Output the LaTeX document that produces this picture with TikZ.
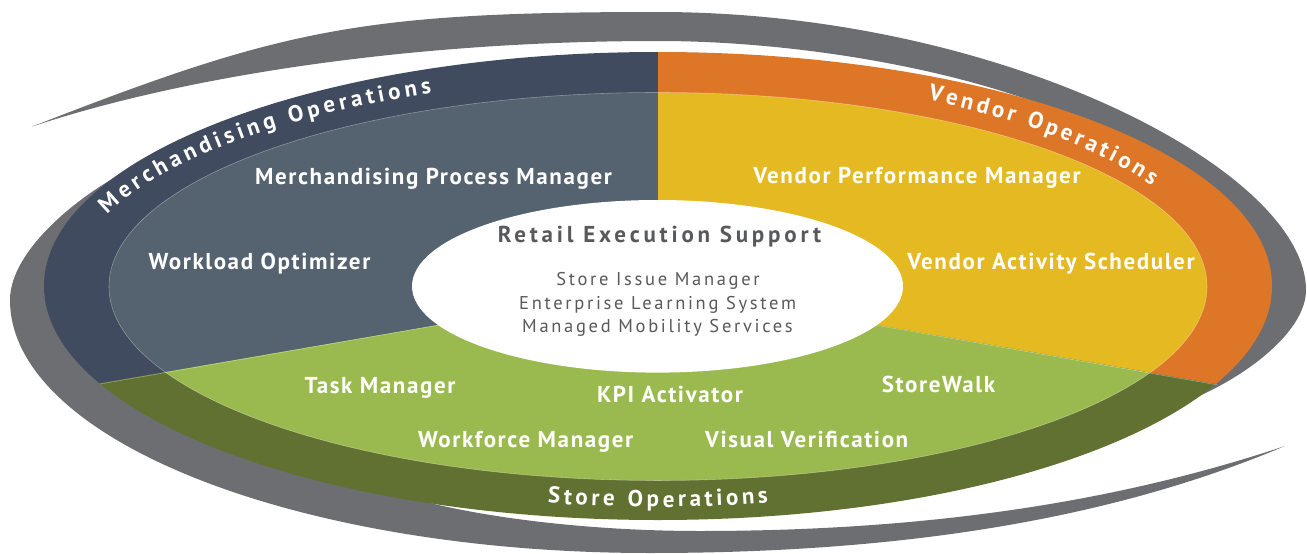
\documentclass[tikz,border=0pt]{standalone}
\usepackage{fontspec}
\setmainfont{PT Sans}
\usetikzlibrary{decorations.text}
\definecolor{swoosh}{HTML}{6D6E72}
\definecolor{navyout}{HTML}{414B5F}
\definecolor{slatein}{HTML}{55626F}
\definecolor{orangeout}{HTML}{DD7727}
\definecolor{yellowin}{HTML}{E4B922}
\definecolor{greenout}{HTML}{617132}
\definecolor{greenin}{HTML}{9ABA4F}
\definecolor{centertext}{HTML}{58595B}
\newcommand\curvefont{\bfseries\fontsize{23}{26}\selectfont}
\tikzset{
  lbl/.style={text=white, font=\bfseries\fontsize{23}{27}\selectfont\addfontfeature{LetterSpace=7}, anchor=base, inner sep=0pt},
  ctitle/.style={text=centertext, font=\bfseries\fontsize{23}{27}\selectfont\addfontfeature{LetterSpace=16.5}, anchor=base, inner sep=0pt},
  citem/.style={text=centertext, font=\fontsize{18.5}{22}\selectfont\addfontfeature{LetterSpace=14.5}, anchor=base, inner sep=0pt},
  seam/.style={white, opacity=0.35, line width=0.6pt},
  curved/.style={decorate, decoration={text along path, text align={fit to path}, text color=white, text={#1}}}
}
\begin{document}
\begin{tikzpicture}[x=1pt,y=-1pt]
\useasboundingbox (0,0) rectangle (1307,554);
% ---- gray swoosh: upper crescent
\fill[swoosh]
  (31.7,126.7) .. controls (281.7,29.2) and (358,12) .. (658,12)
  .. controls (1000,12) and (1306,170) .. (1306,290)
  .. controls (1306,330) and (1250,375) .. (1190,400)
  -- (1150,380) -- (1150,300) -- (1060,112)
  .. controls (960,70) and (800,41) .. (658,41)
  .. controls (408,41) and (181.7,76.7) .. (31.7,126.7) -- cycle;
% ---- gray swoosh: lower crescent
\fill[swoosh]
  (125,172) .. controls (80,195) and (10,250) .. (10,300)
  .. controls (10,440) and (297,553) .. (650,553)
  .. controls (900,553) and (1110,520) .. (1285,446)
  .. controls (1135,496) and (950,531) .. (700,531)
  .. controls (600,531) and (500,520) .. (430,503)
  -- (300,450) -- (150,330) -- (130,250) -- cycle;
% ---- Merchandising sector
\begin{scope}
  \clip (658,287) -- (658,-20) -- (-20,-20) -- (-20,404) -- cycle;
  \fill[navyout] (658,286) ellipse [x radius=614pt, y radius=234pt];
  \fill[slatein] (658,286.5) ellipse [x radius=549pt, y radius=194pt];
\end{scope}
% ---- Vendor sector
\begin{scope}
  \clip (658,287) -- (658,-20) -- (1330,-20) -- (1330,404) -- cycle;
  \fill[orangeout] (658,286) ellipse [x radius=614pt, y radius=234pt];
  \fill[yellowin] (658,286.5) ellipse [x radius=549pt, y radius=194pt];
\end{scope}
% ---- Store sector
\begin{scope}
  \clip (658,287) -- (-20,404) -- (-20,600) -- (1330,600) -- (1330,404) -- cycle;
  \fill[greenout] (658,286) ellipse [x radius=614pt, y radius=234pt];
  \fill[greenin] (658,286.5) ellipse [x radius=549pt, y radius=194pt];
\end{scope}
% seams
\draw[seam] (658,286.5) ellipse [x radius=549pt, y radius=194pt];
\draw[seam] (658,287) -- (100,384);
\draw[seam] (658,287) -- (1218,385);
% ---- centre
\fill[white] (657.5,286.3) ellipse [x radius=245.5pt, y radius=86.3pt];
\node[ctitle] (res) at (659.5,242.7) {Retail Execution Support};
\node[citem] (sim) at (658,285.7) {Store Issue Manager};
\node[citem] (els) at (657.7,309) {Enterprise Learning System};
\node[citem] (mms) at (657.5,332.7) {Managed Mobility Services};
% ---- labels
\node[lbl] (mpm) at (433.5,184) {Merchandising Process Manager};
\node[lbl] (wo) at (259.5,269) {Workload Optimizer};
\node[lbl] (vpm) at (917,183) {Vendor Performance Manager};
\node[lbl] (vas) at (1051,269) {Vendor Activity Scheduler};
\node[lbl] (tm) at (380,393) {Task Manager};
\node[lbl] (kpi) at (670,402.7) {KPI Activator};
\node[lbl] (sw) at (938.5,392.7) {StoreWalk};
\node[lbl] (wfm) at (525.7,447.7) {Workforce Manager};
\node[lbl] (vv) at (806.7,447.7) {Visual Verification};
% ---- curved ring titles
\path[curved={|\curvefont|Merchandising Operations}]
  plot[domain=0:1, samples=90, variable=\t] ({658+586*cos(199.9+47.4*\t)}, {286+209*sin(199.9+47.4*\t)});
\path[curved={|\curvefont|Vendor Operations}]
  plot[domain=0:1, samples=90, variable=\t] ({658+560*cos(298.8+33.1*\t)}, {286+212.3*sin(298.8+33.1*\t)});
\path[curved={|\curvefont|Store Operations}]
  plot[domain=0:1, samples=90, variable=\t] ({658+578*cos(101-22*\t)}, {286+221*sin(101-22*\t)});
\end{tikzpicture}
\end{document}
